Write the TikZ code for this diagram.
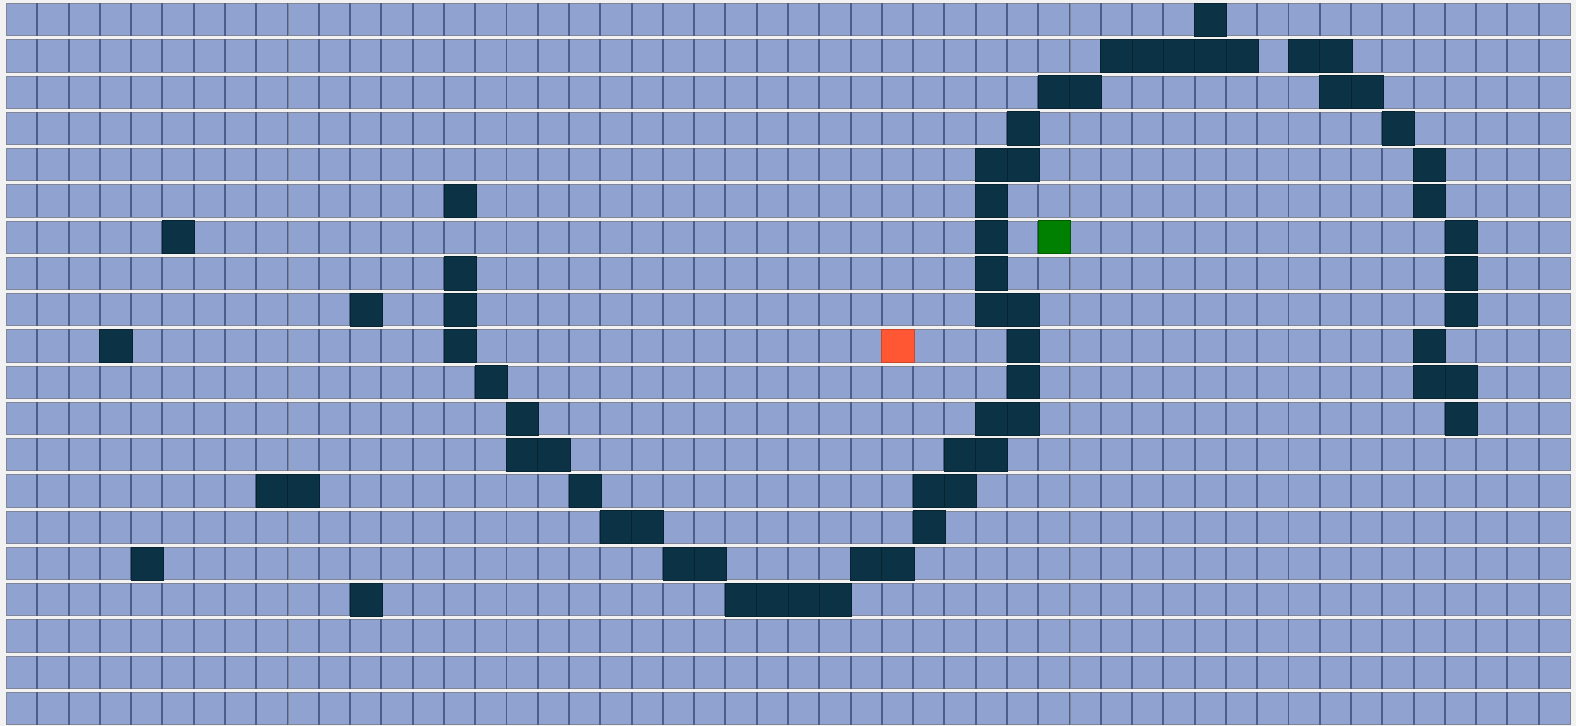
\documentclass[tikz,border=0pt]{standalone}
\usepackage{xcolor}
\usepackage{tikz}
\usetikzlibrary{positioning}
\definecolor{paper}{RGB}{242,242,242}
\definecolor{cellblue}{RGB}{143,162,208}
\definecolor{rowedge}{RGB}{128,134,150}
\definecolor{gridline}{RGB}{78,94,138}
\definecolor{wallnavy}{RGB}{11,51,69}
\definecolor{startgreen}{RGB}{0,128,0}
\definecolor{goalred}{RGB}{255,87,51}

\begin{document}
\begin{tikzpicture}[
  cell/.style={draw=rowedge, line width=0.5pt, fill=cellblue, inner sep=0pt, anchor=north west, minimum width=0.6256cm, minimum height=0.646cm},
  sep/.style={draw=gridline, line width=1.1pt},
  wall/.style={fill=wallnavy, draw=wallnavy!70!black, line width=0.4pt},
  startcell/.style={fill=startgreen, draw=startgreen!70!black, line width=0.4pt},
  goalcell/.style={fill=goalred, draw=goalred!80!black, line width=0.4pt}
]
\fill[paper] (0,0) rectangle (31.52,-14.52);
\useasboundingbox (0,0) rectangle (31.52,-14.52);

% grid of cells
\foreach \r in {0,...,19}
  \foreach \c in {0,...,49}
    \node[cell] (c-\r-\c) at ({0.12+\c*0.6256}, {-0.06-\r*0.7252}) {};

% column separators
\foreach \r in {0,...,19}
  \foreach \c in {1,...,49}
    \draw[sep] (c-\r-\c.north west) -- (c-\r-\c.south west);

% obstacles
\foreach \r/\c in {0/38,
  1/35,1/36,1/37,1/38,1/39,1/41,1/42,
  2/33,2/34,2/42,2/43,
  3/32,3/44,
  4/31,4/32,4/45,
  5/14,5/31,5/45,
  6/5,6/31,6/46,
  7/14,7/31,7/46,
  8/11,8/14,8/31,8/32,8/46,
  9/3,9/14,9/32,9/45,
  10/15,10/32,10/45,10/46,
  11/16,11/31,11/32,11/46,
  12/16,12/17,12/30,12/31,
  13/8,13/9,13/18,13/29,13/30,
  14/19,14/20,14/29,
  15/4,15/21,15/22,15/27,15/28,
  16/11,16/23,16/24,16/25,16/26}
  \filldraw[wall] (c-\r-\c.north west) rectangle (c-\r-\c.south east);

% start and goal
\filldraw[startcell] (c-6-33.north west) rectangle (c-6-33.south east);
\filldraw[goalcell] (c-9-28.north west) rectangle (c-9-28.south east);
\end{tikzpicture}
\end{document}
